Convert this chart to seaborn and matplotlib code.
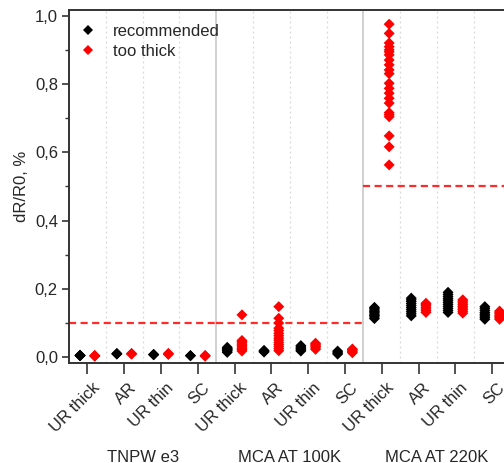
import numpy as np
import pandas as pd
import matplotlib
matplotlib.use("Agg")
import matplotlib.pyplot as plt
import seaborn as sns
from matplotlib.ticker import FuncFormatter, MultipleLocator
from matplotlib.transforms import ScaledTranslation, blended_transform_factory
from matplotlib.lines import Line2D

# ---------------- data ----------------
groups = ["TNPW e3", "MCA AT 100K", "MCA AT 220K"]
subcats = ["UR thick", "AR", "UR thin", "SC"]
series = ["recommended", "too thick"]

# values per subcategory (UR thick, AR, UR thin, SC)
tnpw_recommended = [
    [0.004, 0.005, 0.006, 0.005],
    [0.009, 0.010, 0.011],
    [0.007, 0.008, 0.008],
    [0.004, 0.005],
]
tnpw_too_thick = [
    [0.003, 0.004, 0.005, 0.004],
    [0.009, 0.010, 0.011],
    [0.008, 0.010, 0.011],
    [0.003, 0.004, 0.005],
]
mca100_recommended = [
    [0.014, 0.018, 0.020, 0.022, 0.024, 0.026, 0.029],
    [0.015, 0.017, 0.018, 0.020],
    [0.018, 0.021, 0.024, 0.027, 0.030, 0.034],
    [0.009, 0.012, 0.015, 0.018],
]
mca100_too_thick = [
    [0.018, 0.022, 0.026, 0.030, 0.034, 0.038, 0.042, 0.046, 0.049, 0.124],
    [0.019, 0.025, 0.031, 0.037, 0.043, 0.050, 0.056, 0.063, 0.070, 0.078,
     0.085, 0.100, 0.114, 0.148],
    [0.023, 0.027, 0.031, 0.035, 0.038, 0.041],
    [0.013, 0.016, 0.019, 0.022, 0.024],
]
mca220_recommended = [
    [0.113, 0.118, 0.122, 0.126, 0.130, 0.134, 0.138, 0.142, 0.146],
    [0.121, 0.127, 0.133, 0.139, 0.145, 0.151, 0.157, 0.163, 0.168, 0.173],
    [0.131, 0.137, 0.143, 0.149, 0.155, 0.161, 0.167, 0.172, 0.178, 0.184, 0.190],
    [0.111, 0.116, 0.121, 0.126, 0.131, 0.137, 0.143, 0.148],
]
mca220_too_thick = [
    [0.563, 0.616, 0.648, 0.704, 0.710, 0.716, 0.744, 0.758, 0.773, 0.787,
     0.802, 0.830, 0.841, 0.856, 0.870, 0.885, 0.894, 0.900, 0.909, 0.920,
     0.948, 0.975],
    [0.131, 0.136, 0.141, 0.146, 0.151, 0.155, 0.158],
    [0.129, 0.134, 0.139, 0.144, 0.149, 0.154, 0.159, 0.164, 0.168],
    [0.111, 0.115, 0.119, 0.123, 0.127, 0.131, 0.135],
]
limit_values = [0.1, 0.1, 0.5]   # red dashed limit per group

group_data = {
    groups[0]: (tnpw_recommended, tnpw_too_thick),
    groups[1]: (mca100_recommended, mca100_too_thick),
    groups[2]: (mca220_recommended, mca220_too_thick),
}

rows = []
order = []
for g in groups:
    rec, thick = group_data[g]
    for i, s in enumerate(subcats):
        key = f"{g}|{s}"
        order.append(key)
        for v in rec[i]:
            rows.append((key, series[0], v))
        for v in thick[i]:
            rows.append((key, series[1], v))
df = pd.DataFrame(rows, columns=["cat", "series", "value"])

# ---------------- plot ----------------
sns.set_theme(style="white")
plt.rcParams["font.family"] = ["Liberation Sans", "DejaVu Sans"]
FS = 12
plt.rcParams["font.size"] = FS

W, H = 504, 463
fig = plt.figure(figsize=(W / 100, H / 100), dpi=100)
ax_left, ax_right, ax_top, ax_bottom = 69, 510.6, 9.5, 363
ax = fig.add_axes([ax_left / W, 1 - ax_bottom / H,
                   (ax_right - ax_left) / W, (ax_bottom - ax_top) / H])

# grid lines between categories
for i in range(11):
    xb = i + 0.5
    if i in (3, 7):
        ax.axvline(xb, color="#c8c8c8", lw=1.2, zorder=0)
    else:
        ax.axvline(xb, color="#d8d8d8", lw=0.9, ls=(0, (1.5, 2.5)), zorder=0)

# limit lines (per group)
group_width = len(subcats)
for gi, lim in enumerate(limit_values):
    x0 = gi * group_width - 0.5
    ax.plot([x0, x0 + group_width], [lim, lim], color="#ff2a2a",
            lw=1.6, ls=(0, (3.2, 2.0)), zorder=1)

sns.stripplot(data=df, x="cat", y="value", hue="series", order=order,
              hue_order=series, palette=["black", "#ff0000"], dodge=True,
              jitter=False, marker="D", size=5.6, linewidth=0, ax=ax,
              legend=False, zorder=3)

ax.set_xlim(-0.5, 11.5)
ax.set_ylim(-0.017, 1.018)
ax.set_xlabel("")
ax.set_ylabel("dR/R0, %", fontsize=FS, labelpad=4)

ax.yaxis.set_major_locator(MultipleLocator(0.2))
ax.yaxis.set_minor_locator(MultipleLocator(0.1))
ax.yaxis.set_major_formatter(FuncFormatter(lambda v, _: f"{v:.1f}".replace(".", ",")))
ax.tick_params(axis="y", which="major", direction="out", length=5, width=1.2,
               left=True, labelsize=FS, pad=3, color="#333333")
ax.tick_params(axis="y", which="minor", direction="out", length=3, width=1.0,
               left=True, color="#333333")
ax.tick_params(axis="x", which="major", direction="out", length=8, width=1.2,
               bottom=True, labelsize=FS, pad=4, color="#333333")

ax.set_xticks(range(len(order)))
ax.set_xticklabels([k.split("|")[1] for k in order], rotation=45, ha="right",
                   va="center", rotation_mode="anchor")
offset = ScaledTranslation(10 / 100, -6 / 100, fig.dpi_scale_trans)
for lab in ax.get_xticklabels():
    lab.set_transform(lab.get_transform() + offset)

for sp in ["left", "bottom", "top"]:
    ax.spines[sp].set_color("#333333")
    ax.spines[sp].set_linewidth(1.4)
ax.spines["right"].set_visible(False)

# group labels
trans = blended_transform_factory(ax.transData, fig.transFigure)
for gi, g in enumerate(groups):
    ax.text(gi * group_width + 1.5, 1 - 457 / H, g, transform=trans,
            ha="center", va="center", fontsize=FS)

# legend
handles = [Line2D([], [], ls="none", marker="D", markersize=5.5, color=c,
                  markeredgewidth=0) for c in ["black", "#ff0000"]]
ax.legend(handles, series, loc="upper left", bbox_to_anchor=(0.0118, 0.977),
          frameon=False, handlelength=0.8, handletextpad=1.1,
          labelspacing=0.3, borderaxespad=0.0, fontsize=FS)

fig.savefig("out.png", dpi=100)
